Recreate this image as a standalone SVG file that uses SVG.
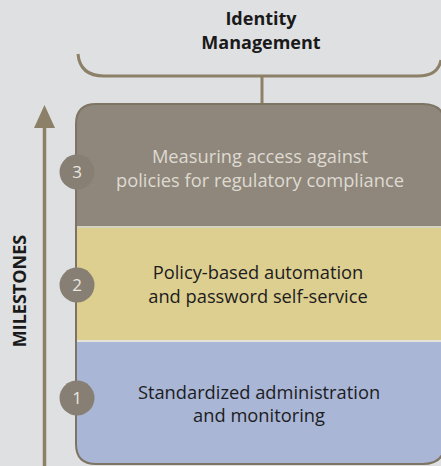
<svg xmlns="http://www.w3.org/2000/svg" width="441" height="466" viewBox="0 0 441 466">
  <defs>
    <style>
      .title { font-family: "Open Sans", "Liberation Sans", sans-serif; font-weight: bold; font-size: 18px; fill: #1a1a1a; text-anchor: middle; }
      .body { font-family: "Open Sans", "Liberation Sans", sans-serif; font-size: 18.3px; text-anchor: middle; }
      .dark { fill: #1c1c22; }
      .light { fill: #dedad2; }
      .num { font-family: "Open Sans", "Liberation Sans", sans-serif; font-size: 17px; fill: #e8e6e0; text-anchor: middle; }
      .circ { fill: #877f73; }
      .line { stroke: #8c8068; stroke-width: 3; fill: none; }
    </style>
    <clipPath id="boxclip">
      <path d="M76,124 Q76,104 96,104 L423,104 Q445,104 445,126 L445,442 Q445,464 423,464 L96,464 Q76,464 76,444 Z"/>
    </clipPath>
  </defs>
  <rect width="441" height="466" fill="#dfe0e2"/>

  <g id="title">
    <text class="title" x="261" y="25">Identity</text>
    <text class="title" x="261" y="49">Management</text>
  </g>

  <g id="connectors">
    <path class="line" d="M78,54 Q80,76 104,76 L418,76 Q438,76 441,60"/>
    <line class="line" x1="262" y1="76" x2="262" y2="105"/>
    <line x1="44.5" y1="466" x2="44.5" y2="120" stroke="#8c8068" stroke-width="3.5"/>
    <polygon points="44.5,105 34,128 55,128" fill="#8c8068"/>
  </g>

  <g id="milestones-label">
    <text class="title" transform="translate(26,291) rotate(-90)" font-size="16.7">MILESTONES</text>
  </g>

  <g id="stack">
    <g clip-path="url(#boxclip)">
      <rect x="70" y="100" width="380" height="126" fill="#8f877b"/>
      <rect x="70" y="226" width="380" height="2" fill="#d6d2c0"/>
      <rect x="70" y="228" width="380" height="112" fill="#dccf8f"/>
      <rect x="70" y="340" width="380" height="2" fill="#e3e3da"/>
      <rect x="70" y="342" width="380" height="130" fill="#a9b6d6"/>
    </g>
    <path d="M76,124 Q76,104 96,104 L423,104 Q445,104 445,126 L445,442 Q445,464 423,464 L96,464 Q76,464 76,444 Z" fill="none" stroke="#7d7464" stroke-width="2"/>
  </g>

  <g id="step3">
    <circle class="circ" cx="77" cy="172" r="17.5"/>
    <text class="num" x="77" y="178">3</text>
    <text class="body light" x="260" y="163">Measuring access against</text>
    <text class="body light" x="260" y="187">policies for regulatory compliance</text>
  </g>

  <g id="step2">
    <circle class="circ" cx="77" cy="285" r="17.5"/>
    <text class="num" x="77" y="291">2</text>
    <text class="body dark" x="258" y="279">Policy-based automation</text>
    <text class="body dark" x="258" y="303">and password self-service</text>
  </g>

  <g id="step1">
    <circle class="circ" cx="77" cy="398" r="17.5"/>
    <text class="num" x="77" y="404">1</text>
    <text class="body dark" x="259" y="399">Standardized administration</text>
    <text class="body dark" x="259" y="422">and monitoring</text>
  </g>
</svg>
